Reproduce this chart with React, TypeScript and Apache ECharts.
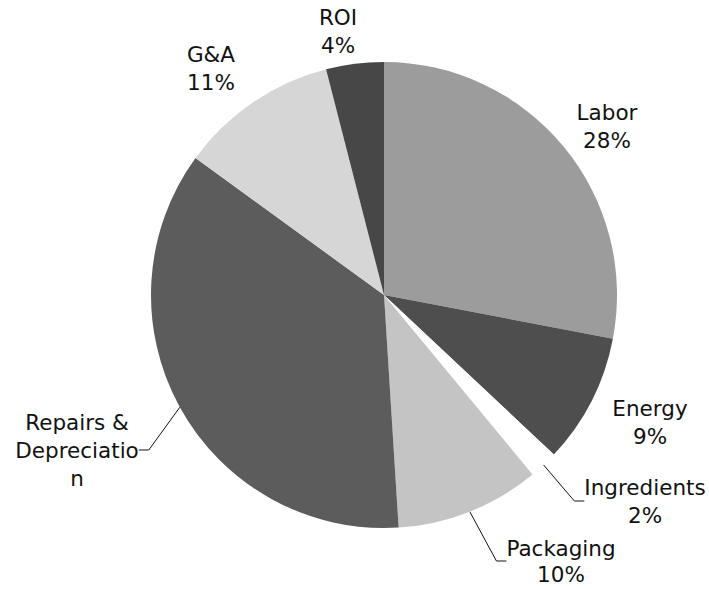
import React, { useEffect, useRef } from "react";
import * as echarts from "echarts";

const categories = ["Labor", "Energy", "Ingredients", "Packaging", "Repairs & Depreciation", "G&A", "ROI"];
const percents = [28, 9, 2, 10, 36, 11, 4];
const labelTexts = ["Labor\n28%", "Energy\n9%", "Ingredients\n2%", "Packaging\n10%", "Repairs &\nDepreciatio\nn", "G&A\n11%", "ROI\n4%"];
const sliceColors = ["#9c9c9c", "#4e4e4e", "#ffffff", "#c4c4c4", "#5c5c5c", "#d6d6d6", "#474747"];
const showLines = [false, false, true, true, true, false, false];
const labelPos: [number, number][] = [
  [607, 126],
  [650, 422],
  [645, 501],
  [561, 561],
  [77, 450],
  [211, 68],
  [338, 31],
];
const labelLineHeights = [28, 28, 28, 26, 28, 28, 28];

export default function App() {
  const ref = useRef<HTMLDivElement>(null);
  useEffect(() => {
    document.body.style.margin = "0";
    if (!ref.current) return;
    const chart = echarts.init(ref.current, undefined, { renderer: "svg" });
    chart.setOption({
      animation: false,
      backgroundColor: "#ffffff",
      series: [
        {
          type: "pie",
          center: [384, 295],
          radius: 233,
          startAngle: 90,
          clockwise: true,
          avoidLabelOverlap: false,
          label: {
            show: true,
            position: "outside",
            fontFamily: "DejaVu Sans",
            fontSize: 21.5,
            lineHeight: 28,
            color: "#111",
            align: "center",
            formatter: (p: any) => labelTexts[p.dataIndex],
          },
          labelLine: { show: false, lineStyle: { color: "#111", width: 1 }, length: 10, length2: 10 },
          labelLayout: (p: any) => {
            const [x, y] = labelPos[p.dataIndex];
            return { x, y, align: "center", verticalAlign: "middle" };
          },
          data: categories.map((name, i) => ({
            name,
            value: percents[i],
            itemStyle: { color: sliceColors[i] },
            label: { lineHeight: labelLineHeights[i] },
            labelLine: { show: showLines[i] },
          })),
        },
      ],
    });
    return () => chart.dispose();
  }, []);
  return <div ref={ref} style={{ width: 709, height: 589 }} />;
}
